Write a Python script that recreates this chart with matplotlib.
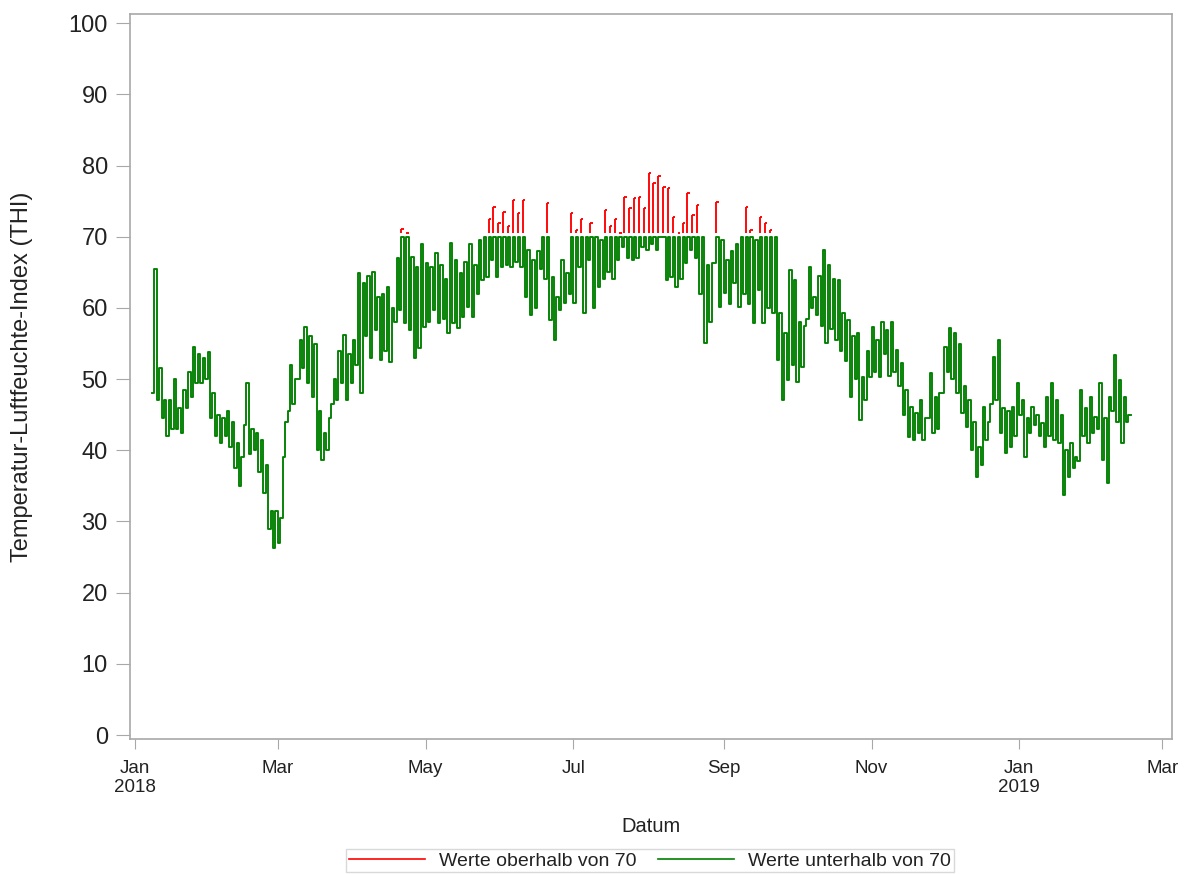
import numpy as np
import pandas as pd
import matplotlib
matplotlib.use("Agg")
import matplotlib.pyplot as plt
from matplotlib.lines import Line2D

plt.rcParams["font.family"] = ["Liberation Sans", "DejaVu Sans"]

# THI per two-day block starting 2018-01-08: (low, high)
START = "2018-01-08"
THRESHOLD = 70
thi_lo = [
    48, 47, 44.5, 42, 43, 43, 42.5, 46, 47.5, 49.5,
    49.5, 50, 44.5, 42, 41, 42, 40.5, 37.5, 35, 43.5,
    39.5, 40, 37, 34, 29, 26.3, 27, 39, 45.5, 46.5,
    50, 51.5, 49.5, 47.5, 40, 38.6, 40, 46.5, 47, 49.5,
    47, 49.5, 52, 48, 56, 53, 56.9, 52.7, 54, 52.4,
    58, 59.7, 57.9, 56.9, 52.9, 54.4, 57.3, 58, 59.7, 57.9,
    58.5, 56.5, 57.9, 57.2, 58.7, 60.1, 58.7, 62, 63.9, 64.3,
    66.7, 64.3, 65.7, 66, 65.7, 66.5, 65.7, 61.5, 59, 60,
    65.5, 64, 58.3, 55.5, 59.7, 60.7, 62, 60.7, 65.7, 59.3,
    66.7, 60, 63, 64, 65, 64, 66.7, 68.5, 67, 66.7,
    67, 68.5, 68.1, 69, 68.1, 70, 63.9, 64.3, 62.9, 64,
    66.3, 68.1, 67, 62, 55.1, 58, 66.3, 60.1, 62.1, 60.5,
    63.5, 60.1, 62, 60.5, 57.9, 62.5, 57.9, 60, 59.3, 52.7,
    47, 49.9, 52, 49.6, 51.7, 58.5, 60, 59, 57.5, 55.1,
    57, 55.5, 54, 52.5, 47.5, 50, 44.2, 47, 50.3, 51,
    50.3, 53.6, 50.5, 51, 49, 45, 41.9, 41.4, 42.5, 41.5,
    44.5, 42.5, 43, 48, 51, 50, 48, 45.2, 43.3, 40,
    36.2, 38, 41.5, 46.5, 47, 42.4, 39.6, 40.4, 42, 45,
    39, 42.5, 43.5, 42, 40.5, 42, 41.5, 41, 33.7, 36.2,
    37.5, 38.5, 42, 41, 42.5, 43, 38.6, 35.4, 45.5, 44,
    41, 44,
]
thi_hi = [
    65.5, 51.5, 47, 47, 50, 46, 48.5, 51, 54.5, 53.5,
    53, 53.8, 48, 45, 44.5, 45.5, 44, 41, 39, 49.5,
    43, 42.5, 41.5, 38, 31.5, 31.5, 30.5, 44, 52, 50,
    55.5, 57.3, 56, 55, 45.5, 42.5, 44.5, 50, 54, 56.2,
    53.5, 55.5, 64.9, 63.5, 64.5, 65, 61.5, 62, 62.9, 60,
    67, 71.1, 70.5, 67.1, 65.7, 69, 66.3, 65.7, 67.7, 66,
    64, 69.1, 66.7, 64.9, 66.5, 69, 66, 69.5, 70, 72.5,
    74.2, 72, 73.5, 71.5, 75.1, 73.3, 75.1, 68.1, 66.7, 68,
    70, 74.7, 64.3, 61.5, 66.7, 64.9, 73.3, 71, 72.5, 70,
    72, 70, 69.5, 73.7, 71.5, 72.5, 70.5, 75.6, 74, 75.5,
    75.6, 74, 78.9, 77.5, 78.5, 77, 76.8, 72.8, 70.6, 72,
    76.1, 73, 74.5, 70, 66, 66.3, 74.9, 69.5, 66.7, 68,
    69, 70, 74.2, 71, 69.5, 72.8, 72, 71, 70, 59.3,
    56.5, 65.3, 63.9, 58, 57.5, 65.7, 61.5, 64.5, 68.1, 66,
    64, 63.9, 59.3, 58.3, 56, 56.5, 50.3, 54, 57.3, 55.5,
    58, 56.9, 58, 54.1, 52.2, 48.5, 46.1, 45.2, 47, 44.5,
    50.8, 47.5, 48, 54.5, 57.2, 56.5, 55, 49, 47, 44,
    40.5, 46.1, 44, 53.1, 55.5, 46, 45.5, 46.1, 49.4, 47,
    44.5, 46.1, 45, 43.8, 47.5, 49.4, 47, 45, 40, 41,
    39, 48.5, 46, 47.5, 44.7, 49.4, 44.5, 47.5, 53.4, 49.9,
    47.5, 45,
]
tick_dates = ["2018-01-01", "2018-03-01", "2018-05-01", "2018-07-01",
              "2018-09-01", "2018-11-01", "2019-01-01", "2019-03-01"]
tick_labels = ["Jan\n2018", "Mar", "May", "Jul", "Sep", "Nov", "Jan\n2019", "Mar"]

GREEN = "#008000"
RED = "#ff0000"
GRID = "#a8a8a8"
TEXT = "#222222"

lo = np.array(thi_lo, dtype=float)
hi = np.array(thi_hi, dtype=float)
day = pd.Timedelta(days=1)
block_start = pd.date_range(START, periods=len(lo), freq="2D")

# interleave low/high readings into one step series
t = np.empty(2 * len(lo) + 1, dtype="datetime64[ns]")
t[0:-1:2] = block_start.values
t[1:-1:2] = (block_start + day).values
t[-1] = (block_start[-1] + 2 * day).to_datetime64()
thi = np.empty(2 * len(lo) + 1)
thi[0:-1:2] = lo
thi[1:-1:2] = hi
thi[-1] = hi[-1]

fig = plt.figure(figsize=(11.85, 8.74), dpi=100)
ax = fig.add_axes([130 / 1185, 1 - 739 / 874, 1042 / 1185, 725 / 874])

# values up to the threshold in green, capped at 70
ax.step(t, np.minimum(thi, THRESHOLD), where="post", color=GREEN, lw=1.35)

# values above the threshold in red
over = hi > THRESHOLD
red_t = (block_start + day)[over]
ax.vlines(red_t, THRESHOLD + 0.6, hi[over], color=RED, lw=1.35)
ax.hlines(hi[over], red_t, red_t + day, color=RED, lw=1.35)

ax.set_xlim(pd.Timestamp("2017-12-30"), pd.Timestamp("2019-03-05"))
ax.set_ylim(-0.56, 101.3)
ax.set_yticks(np.arange(0, 101, 10))
ax.set_xticks(pd.to_datetime(tick_dates))
ax.set_xticklabels(tick_labels, fontsize=13.5, color=TEXT)
ax.tick_params(axis="y", labelsize=17, labelcolor=TEXT, length=10, pad=6, color=GRID)
ax.tick_params(axis="x", length=7, pad=8, color=GRID)
for s in ax.spines.values():
    s.set_color(GRID)
    s.set_linewidth(1.2)

ax.set_ylabel("Temperatur-Luftfeuchte-Index (THI)", fontsize=17, color=TEXT)
ax.yaxis.set_label_coords(-0.093, 0.5)
ax.set_xlabel("Datum", fontsize=14.5, color=TEXT)
ax.xaxis.set_label_coords(0.5, -0.107)

handles = [Line2D([], [], color=RED, lw=1.2), Line2D([], [], color=GREEN, lw=1.2)]
leg = fig.legend(handles, ["Werte oberhalb von 70", "Werte unterhalb von 70"],
                 loc="upper center", bbox_to_anchor=(650 / 1185, 1 - 849 / 874),
                 ncol=2, fontsize=14, frameon=True, fancybox=False,
                 handlelength=3.9, handletextpad=0.75, columnspacing=1.1,
                 borderpad=0.15, borderaxespad=0)
leg.get_frame().set_edgecolor("#d0d0d0")
leg.get_frame().set_linewidth(1.0)
for txt in leg.get_texts():
    txt.set_color(TEXT)

fig.savefig("out.png", dpi=100)
